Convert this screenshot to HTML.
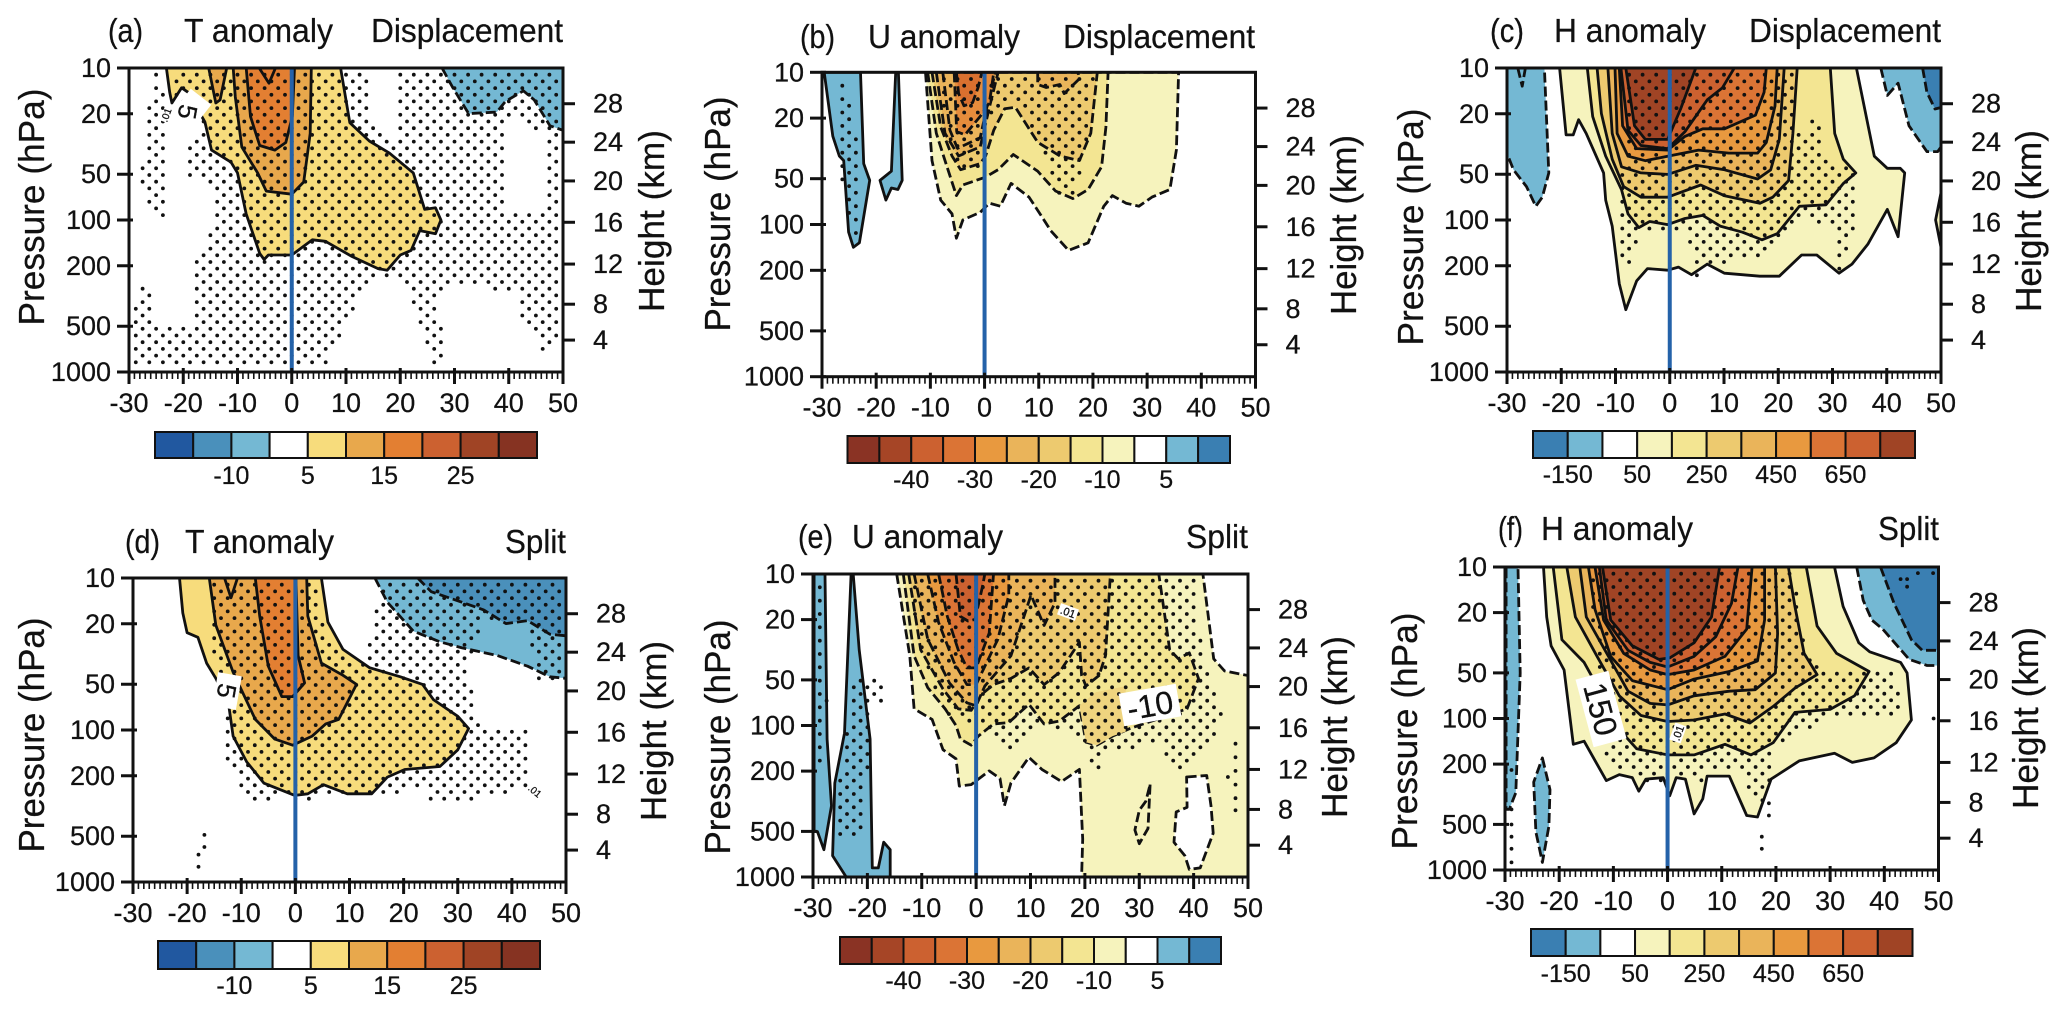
<!DOCTYPE html>
<html lang="en">
<head>
<meta charset="utf-8">
<title>Temperature, wind and height anomaly composites</title>
<style>
html,body{margin:0;padding:0;background:#fff;}
svg{display:block;}
text{font-family:"Liberation Sans",sans-serif;fill:#111;stroke:#111;stroke-width:0.25;}
.title{font-size:33px;}
.axt{font-size:36px;}
</style>
</head>
<body>
<svg id="fig" xmlns="http://www.w3.org/2000/svg" width="2067" height="1012" viewBox="0 0 2067 1012">
<defs id="defs"></defs>
<g id="plots"></g>
<g>
<text class="title" x="108" y="42" textLength="35" lengthAdjust="spacingAndGlyphs">(a)</text>
<text class="title" x="184" y="42" textLength="149" lengthAdjust="spacingAndGlyphs">T anomaly</text>
<text class="title" x="371" y="42" textLength="192" lengthAdjust="spacingAndGlyphs">Displacement</text>
<text class="title" x="800" y="48" textLength="35" lengthAdjust="spacingAndGlyphs">(b)</text>
<text class="title" x="868" y="48" textLength="152" lengthAdjust="spacingAndGlyphs">U anomaly</text>
<text class="title" x="1063" y="48" textLength="192" lengthAdjust="spacingAndGlyphs">Displacement</text>
<text class="title" x="1490" y="42" textLength="34" lengthAdjust="spacingAndGlyphs">(c)</text>
<text class="title" x="1554" y="42" textLength="152" lengthAdjust="spacingAndGlyphs">H anomaly</text>
<text class="title" x="1749" y="42" textLength="192" lengthAdjust="spacingAndGlyphs">Displacement</text>
<text class="title" x="125" y="553" textLength="35" lengthAdjust="spacingAndGlyphs">(d)</text>
<text class="title" x="185" y="553" textLength="149" lengthAdjust="spacingAndGlyphs">T anomaly</text>
<text class="title" x="505" y="553" textLength="61" lengthAdjust="spacingAndGlyphs">Split</text>
<text class="title" x="798" y="548" textLength="35" lengthAdjust="spacingAndGlyphs">(e)</text>
<text class="title" x="852" y="548" textLength="151" lengthAdjust="spacingAndGlyphs">U anomaly</text>
<text class="title" x="1186" y="548" textLength="62" lengthAdjust="spacingAndGlyphs">Split</text>
<text class="title" x="1498" y="540" textLength="25" lengthAdjust="spacingAndGlyphs">(f)</text>
<text class="title" x="1541" y="540" textLength="152" lengthAdjust="spacingAndGlyphs">H anomaly</text>
<text class="title" x="1878" y="540" textLength="61" lengthAdjust="spacingAndGlyphs">Split</text>
</g>
<g>
<text class="axt" transform="translate(44,207) rotate(-90)" text-anchor="middle" textLength="237" lengthAdjust="spacingAndGlyphs">Pressure (hPa)</text>
<text class="axt" transform="translate(664,221) rotate(-90)" text-anchor="middle" textLength="182" lengthAdjust="spacingAndGlyphs">Height (km)</text>
<text class="axt" transform="translate(730,214) rotate(-90)" text-anchor="middle" textLength="235" lengthAdjust="spacingAndGlyphs">Pressure (hPa)</text>
<text class="axt" transform="translate(1356,225) rotate(-90)" text-anchor="middle" textLength="180" lengthAdjust="spacingAndGlyphs">Height (km)</text>
<text class="axt" transform="translate(1423,227) rotate(-90)" text-anchor="middle" textLength="237" lengthAdjust="spacingAndGlyphs">Pressure (hPa)</text>
<text class="axt" transform="translate(2041,221) rotate(-90)" text-anchor="middle" textLength="182" lengthAdjust="spacingAndGlyphs">Height (km)</text>
<text class="axt" transform="translate(44,735) rotate(-90)" text-anchor="middle" textLength="235" lengthAdjust="spacingAndGlyphs">Pressure (hPa)</text>
<text class="axt" transform="translate(666,731) rotate(-90)" text-anchor="middle" textLength="180" lengthAdjust="spacingAndGlyphs">Height (km)</text>
<text class="axt" transform="translate(730,737) rotate(-90)" text-anchor="middle" textLength="235" lengthAdjust="spacingAndGlyphs">Pressure (hPa)</text>
<text class="axt" transform="translate(1347,727) rotate(-90)" text-anchor="middle" textLength="182" lengthAdjust="spacingAndGlyphs">Height (km)</text>
<text class="axt" transform="translate(1417,731) rotate(-90)" text-anchor="middle" textLength="237" lengthAdjust="spacingAndGlyphs">Pressure (hPa)</text>
<text class="axt" transform="translate(2038,718) rotate(-90)" text-anchor="middle" textLength="182" lengthAdjust="spacingAndGlyphs">Height (km)</text>
</g>
</svg>
<script>
// Shared axis values
const xTicks = [-30,-20,-10,0,10,20,30,40,50];
const pressureTicks = [10,20,50,100,200,500,1000];
const heightTicks = [28,24,20,16,12,8,4];
const heightLogP = [1.235,1.488,1.743,2.015,2.29,2.554,2.79];

// Colour scales (one entry per colourbar box)
const tempColors = ['#2158a0','#4a90bb','#74b8d3','#ffffff','#f7dc7c','#e8a84c','#e37f32','#cc6130','#a04425','#863322'];
const windColors = ['#8a3324','#a64526','#cc6130','#db7435','#e8993f','#eab45a','#edca6f','#f3e592','#f6f3bd','#ffffff','#74b8d3','#3a7fb2'];
const heightColors = ['#3a7fb2','#74b8d3','#ffffff','#f6f3bd','#f3e592','#edca6f','#eab45a','#e8993f','#db7435','#cc6130','#a04425'];
const tempBarLabels = [[2,'-10'],[4,'5'],[6,'15'],[8,'25']];
const windBarLabels = [[2,'-40'],[4,'-30'],[6,'-20'],[8,'-10'],[10,'5']];
const heightBarLabels = [[1,'-150'],[3,'50'],[5,'250'],[7,'450'],[9,'650']];

// Contour outlines: each point is [lag in days, log10 of pressure in hPa]
// Panel a
const aPlus5 = [[-23.1,1],[-22.5,1.16],[-22.1,1.23],[-20.3,1.13],[-19.1,1.16],[-16,1.355],[-14.8,1.54],[-11.2,1.62],[-10,1.69],[-8.4,1.96],[-5.9,2.22],[-5.1,2.26],[-4.3,2.23],[0,2.23],[3.8,2.13],[6.2,2.14],[11.1,2.24],[15.9,2.32],[17.6,2.33],[20,2.23],[22,2.2],[23.6,2.07],[26.5,2.09],[27.5,2],[26.5,1.92],[24.5,1.93],[22.4,1.69],[18,1.56],[14.3,1.48],[10.7,1.36],[9,1]];
const aPlus10 = [[-10.8,1],[-10.4,1.19],[-9.2,1.52],[-6.3,1.69],[-4.7,1.81],[0,1.83],[2.2,1.75],[3.4,1.43],[3.6,1]];
const aPlus10Small = [[-15.3,1],[-14,1.23],[-13.2,1.21],[-12,1]];
const aPlus15 = [[-8.4,1],[-7.6,1.32],[-5.9,1.51],[-3.1,1.54],[-1.1,1.49],[0.1,1.32],[0.5,1]];
const aPlus20 = [[-6,1],[-4.2,1.1],[-3,1]];
const aMinus5 = [[27.7,1],[29.7,1.13],[32.6,1.3],[37.8,1.29],[39.4,1.22],[42.7,1.15],[44.7,1.21],[47.6,1.38],[50,1.41],[50,1]];
const aStippleLeft = [[-25.8,1.02],[-24.6,1.02],[-22.5,1.3],[-22.5,2.01],[-25.8,2.01],[-28.2,1.74],[-26.6,1.43]];
const aStippleMain = [[-21.7,1.02],[13.9,1.02],[13.9,1.34],[18.8,1.52],[18.8,1.02],[50,1.02],[50,2.75],[46.3,2.93],[44.7,2.77],[41.9,2.66],[41.9,2.46],[29.7,2.44],[27.3,2.53],[28.1,2.97],[26.1,2.97],[24.1,2.75],[21.6,2.46],[16.8,2.37],[11.9,2.53],[9.5,2.75],[6.2,2.97],[-29.4,2.97],[-29.4,2.69],[-18.5,2.69],[-18.5,2.53],[-18.1,2.29],[-14.8,2.04],[-14.8,1.78],[-19.7,1.69],[-19.7,1.54],[-16.9,1.38],[-21.7,1.21]];
const aStippleLow = [[-28.2,2.42],[-26.6,2.42],[-25,2.69],[-29.4,2.69]];
const aStippleHole = [[39.3,1.31],[46.3,1.43],[46.3,1.96],[39.3,1.96]];

// Panel b
const bPlus5West = [[-29.6,1],[-28,1.42],[-26.8,1.55],[-26,1.58],[-25.1,2.05],[-24.2,2.15],[-23.1,2.12],[-21.2,1.71],[-22.3,1.6],[-22.9,1]];
const bPlus5Mid = [[-16.4,1],[-17.2,1.65],[-19.3,1.71],[-18.2,1.84],[-17.2,1.76],[-16,1.77],[-15.2,1.71],[-15.9,1]];
const bMinus5 = [[-10.9,1],[-9.7,1.58],[-8.1,1.84],[-6,1.93],[-5.2,2.09],[-4,1.97],[-0.8,1.92],[0.9,1.86],[2.9,1.88],[4.9,1.73],[8.2,1.82],[10.6,1.95],[12.2,2.04],[15.5,2.17],[19.1,2.12],[22,1.88],[23.6,1.81],[26.1,1.86],[28.5,1.88],[30.9,1.82],[34.2,1.77],[35.4,1.51],[35.8,1]];
const bMinus10 = [[-10.5,1],[-8.9,1.4],[-7.3,1.58],[-5.2,1.81],[-4,1.74],[0.1,1.69],[2.5,1.64],[5.3,1.54],[9.8,1.65],[13.1,1.78],[16.3,1.83],[19.1,1.77],[21.6,1.62],[22.4,1.36],[22.8,1]];
const bMinus15 = [[-9.7,1],[-8.1,1.36],[-6,1.55],[-4.4,1.64],[-0.8,1.6],[0.2,1.55],[1.7,1.38],[3.7,1.24],[5.7,1.23],[9.8,1.46],[13.9,1.55],[17.5,1.58],[19.6,1.4],[20.8,1]];
const bMinus20 = [[-8.9,1],[-7.3,1.4],[-4.8,1.55],[-0.8,1.49],[0.9,1.23],[2.5,1]];
const bMinus20East = [[9.8,1],[9.8,1.08],[11.4,1.1],[13.9,1.08],[14.7,1.14],[17.3,1.05],[17.3,1]];
const bMinus25 = [[-7.7,1],[-6.4,1.38],[-5,1.5],[-0.8,1.43],[0.6,1.2],[2,1]];
const bMinus30 = [[-5.6,1],[-5.15,1.39],[-3.6,1.41],[-0.8,1.29],[0.9,1.2],[1.7,1]];
const bMinus35 = [[-5.2,1],[-4.8,1.14],[-3.8,1.22],[-2.2,1.2],[-1.2,1.1],[-0.5,1]];
const bStippleMain = [[-8.5,1.02],[-5.6,1.64],[0.1,1.66],[0.2,1.4],[3.3,1.2],[6.2,1.18],[9.4,1.4],[11.4,1.55],[13.1,1.81],[17.1,1.81],[18.7,1.53],[20.2,1.02]];
const bStippleWest = [[-27.2,1.05],[-25.5,1.05],[-23,1.6],[-23.1,2.06],[-24.7,2.06],[-26.8,1.6]];

// Panel c
const cMinus50West = [[-30,1],[-23.1,1],[-22.3,1.69],[-23.5,1.85],[-24.7,1.91],[-26.4,1.78],[-28.8,1.67],[-29.8,1.58],[-30,1.58]];
const cMinus50Nub = [[-28,1],[-27.2,1.12],[-26.6,1]];
const cMinus50East = [[38.9,1],[40.1,1.18],[42.1,1.1],[44.1,1.38],[47.4,1.55],[49.4,1.55],[50,1.52],[50,1]];
const cMinus150East = [[46.6,1],[47.4,1.16],[48.9,1.27],[50,1.26],[50,1]];
const cPlus50Sliver = [[50,1.82],[49,2],[50,2.18]];
const cPlus50 = [[-20.3,1],[-19.1,1.44],[-17.8,1.44],[-16.8,1.34],[-15.4,1.43],[-12.2,1.69],[-11.8,1.87],[-10.6,2.04],[-9.3,2.42],[-8.1,2.59],[-6.1,2.4],[-4.1,2.32],[-0.4,2.33],[1.6,2.31],[4,2.36],[6.9,2.29],[10.1,2.35],[16.6,2.37],[20.2,2.37],[24.3,2.23],[27.1,2.23],[31.2,2.35],[33.6,2.29],[36.5,2.16],[40.1,1.93],[42.1,2.11],[43.3,1.69],[42.5,1.66],[40.1,1.66],[37.7,1.58],[34.4,1]];
const cPlus100 = [[-15.2,1],[-14.2,1.32],[-11.8,1.58],[-8.9,1.8],[-7.7,1.96],[-5.7,2.05],[-3.7,2.01],[-0.4,2.03],[2.8,1.99],[6.1,1.97],[9.3,2.04],[13.4,2.08],[17,2.13],[19.8,2.09],[23.9,1.91],[28.8,1.9],[32,1.76],[34.3,1.69],[32,1.6],[30.4,1.43],[29.6,1]];
const cPlus200 = [[-13.4,1],[-12.6,1.3],[-10.6,1.6],[-8.5,1.78],[-5.3,1.85],[-0.4,1.85],[5.7,1.77],[10.1,1.84],[16.6,1.89],[19,1.85],[21.9,1.74],[22.7,1.43],[23.5,1]];
const cPlus300 = [[-11.4,1],[-10.6,1.43],[-8.9,1.65],[-5.3,1.69],[-0.4,1.7],[4.8,1.64],[10.1,1.67],[16.2,1.73],[18.6,1.67],[20.2,1.47],[21.1,1]];
const cPlus400 = [[-10.1,1],[-9.7,1.43],[-7.7,1.58],[-4.5,1.61],[-0.4,1.58],[5.3,1.54],[10.9,1.56],[16.2,1.56],[17.8,1.49],[19.4,1.25],[19.8,1]];
const cPlus500 = [[-9.3,1],[-8.7,1.38],[-6.1,1.53],[-0.4,1.54],[2.8,1.45],[6.1,1.4],[10.1,1.4],[15.8,1.31],[17.4,1.16],[17.8,1]];
const cPlus600 = [[-9,1],[-7.7,1.41],[-5.3,1.51],[-0.4,1.53],[2.8,1.42],[6.9,1.21],[9.7,1.13],[11.9,1]];
const cPlus700 = [[-8.1,1],[-6.5,1.38],[-4.5,1.47],[-0.4,1.47],[2,1.27],[4.8,1]];
const cStipple = [[-7.7,1.02],[-8.1,1.54],[-9.7,1.85],[-9.7,2.26],[-6.9,2.31],[-5.3,2.07],[2.8,2.07],[4,2.26],[5.3,2.4],[6.5,2.29],[17.4,2.26],[19.8,2.12],[25.1,2],[31.2,2.04],[30.4,2.22],[31.6,2.38],[34.4,2.04],[34.4,1.69],[28.8,1.6],[28.3,1.38],[26.7,1.32],[24.3,1.43],[22.7,1.32],[22.7,1.02]];

// Panel d
const dPlus5 = [[-21.4,1],[-20.8,1.23],[-20,1.36],[-18,1.39],[-16.4,1.56],[-14.7,1.66],[-12.3,1.84],[-11.5,2.04],[-9,2.21],[-5.8,2.35],[-0.1,2.43],[2.3,2.42],[5.2,2.36],[9.6,2.42],[14.1,2.42],[17,2.31],[20.2,2.26],[26.7,2.24],[30,2.13],[32,1.99],[30,1.91],[25.5,1.8],[23.5,1.7],[19.4,1.65],[13.7,1.59],[8.8,1.47],[6,1.29],[4.8,1]];
const dPlus10 = [[-15.9,1],[-14.7,1.31],[-11.5,1.62],[-7.4,1.93],[-3.8,2.06],[-0.5,2.1],[3.1,2.04],[5.6,1.96],[8,1.93],[11.3,1.7],[8.8,1.64],[4.8,1.56],[2.3,1.25],[2.1,1]];
const dPlus15 = [[-7.4,1],[-6.6,1.25],[-5,1.58],[-2.5,1.78],[-0.5,1.78],[1.7,1.69],[0.5,1.51],[0.1,1]];
const dPlus10Small = [[-13.1,1],[-11.9,1.13],[-10.7,1]];
const dMinus5 = [[14.7,1],[17,1.16],[21.8,1.35],[26.7,1.42],[30.8,1.46],[37.3,1.51],[42.9,1.58],[47,1.65],[50,1.66],[50,1]];
const dMinus10 = [[22.6,1],[25.1,1.09],[30,1.15],[34.8,1.21],[38.9,1.3],[42.9,1.28],[47,1.37],[50,1.38],[50,1]];
const dStipple = [[-15.5,1.03],[4.4,1.03],[4.4,1.27],[8,1.47],[12.9,1.58],[13.7,1.42],[14.9,1.18],[15.3,1.03],[49.4,1.03],[49.4,1.69],[45,1.69],[43.4,1.47],[43.4,1.31],[34,1.25],[33.6,1.53],[31.6,1.51],[33.2,1.93],[34,1.98],[42.9,1.98],[43.4,2.39],[30.8,2.48],[25.5,2.48],[23.5,2.39],[15.3,2.43],[4,2.41],[0.3,2.52],[-0.9,2.43],[-8.2,2.48],[-13.1,2.21],[-13.5,1.93],[-11.5,1.84],[-14.7,1.62],[-15.9,1.4]];
const dExtraDots = [[-16.8,2.69],[-16.8,2.77],[-17.9,2.82],[-17.9,2.9]];

// Panel e
const ePlus5Strip = [[-29.8,1],[-27.8,1],[-27.4,2.09],[-26.6,2.53],[-28,2.82],[-29.2,2.7],[-29.8,2.7]];
const ePlus5West = [[-23,1],[-24.2,2.05],[-26,2.38],[-26.4,2.86],[-23.9,3],[-15.8,3],[-15.8,2.82],[-17,2.77],[-18,2.94],[-19.1,2.94],[-19.5,2.09],[-21.5,1.5],[-22.6,1]];
const eMinus5 = [[-14.6,1],[-12.2,1.54],[-11.4,1.89],[-8.1,1.96],[-6.1,2.16],[-3.7,2.22],[-3.1,2.4],[-0.9,2.39],[2.4,2.3],[4.4,2.35],[5.2,2.53],[6.4,2.38],[9.7,2.21],[12.1,2.29],[15.7,2.37],[19,2.29],[19.6,2.75],[19.4,3],[50,3],[50,1.67],[45.7,1.64],[43.7,1.56],[41.7,1]];
const eMinus5Hole = [[38.7,2.34],[42.4,2.33],[43.2,2.53],[43.6,2.71],[41.2,2.94],[39.2,2.95],[38.4,2.86],[36.4,2.77],[36.8,2.57],[38.8,2.54]];
const eMinus5Loop = [[32,2.39],[31.6,2.68],[30,2.78],[29.2,2.69],[30,2.56],[31.2,2.5]];
const eMinus10 = [[-13.4,1],[-11.4,1.54],[-8.9,1.75],[-5.7,1.89],[-3.7,2],[-2.9,2.09],[-0.9,2.13],[0.4,2.07],[3.2,1.99],[6,1.98],[9.7,1.86],[12.5,1.99],[15.3,1.97],[19,1.87],[20.2,2.11],[22.2,2.13],[25.1,2.07],[28.3,2.02],[38.8,1.89],[40.9,1.69],[39.2,1.52],[37.2,1.56],[35.6,1.5],[33.6,1]];
const eMinus15Low = [[19,1.87],[20.2,2.11],[22.2,2.13],[25.1,2.07],[27.5,2.04],[27.5,1.74],[22,1.78]];
const eMinus15 = [[-12.4,1],[-10.2,1.5],[-6.1,1.76],[-3.3,1.89],[-0.9,1.9],[0.8,1.8],[3.2,1.73],[6.4,1.69],[9.7,1.62],[12.5,1.73],[15.3,1.65],[19,1.45],[19.4,1.67],[20.2,1.74],[22.6,1.67],[23.8,1.54],[24.7,1]];
const eMinus20 = [[-11.4,1],[-8.9,1.43],[-4.9,1.72],[-1.7,1.85],[0,1.87],[1.6,1.74],[6.4,1.54],[10.1,1.14],[12.5,1.34],[14.5,1.19],[14.5,1]];
const eMinus25 = [[-8.9,1],[-6.9,1.32],[-4.1,1.58],[-1.7,1.73],[0,1.73],[4,1.43],[6,1.14],[6,1]];
const eMinus30 = [[-6.9,1],[-5.3,1.28],[-3.3,1.5],[-1.7,1.62],[0,1.62],[2.4,1.39],[3.2,1]];
const eMinus35 = [[-3.7,1],[-2.9,1.28],[-1.5,1.31],[-0.2,1.3],[1.2,1.08],[1.6,1]];
const eStippleMain = [[-12.6,1.02],[40.4,1.02],[41.3,1.43],[42.9,1.69],[45.5,1.96],[44.1,2.09],[37.2,2.31],[33.2,2.09],[27.1,2.18],[25.1,2.13],[22.2,2.33],[20.6,2.22],[19.4,2.07],[12.1,1.98],[6.4,2.17],[5.2,2.18],[3.2,2.09],[1.2,2],[-1.7,2.02],[-5.7,1.91],[-9.8,1.6],[-11.8,1.21]];
const eStippleStrip = [[-29.4,1.02],[-28.4,1.02],[-27.4,1.87],[-28.4,2.31],[-29.4,2.31]];
const eStippleWest = [[-23.1,1.69],[-20.3,1.69],[-19.6,2.22],[-21.5,2.75],[-25.1,2.75],[-25.5,2.42],[-23.9,2.05]];
const eStipplePatch = [[-20.3,1.68],[-17.4,1.68],[-17.4,1.88],[-20.3,1.88]];
const eExtraDots = [[47.7,2.12],[47.7,2.21],[47.7,2.3],[46.3,2.34],[47.7,2.39],[47.7,2.48],[47.7,2.56]];

// Panel f
const fMinus50Strip = [[-29.8,1],[-27.6,1],[-27.2,1.7],[-28,2.49],[-29.2,2.6],[-29.8,2.6]];
const fMinus50Lens = [[-23.1,2.26],[-21.7,2.47],[-21.9,2.71],[-23.1,2.95],[-24.3,2.75],[-24.7,2.42]];
const fMinus50East = [[34.9,1],[36.1,1.22],[37.7,1.35],[39.7,1.41],[44.6,1.61],[47.9,1.65],[50,1.65],[50,1]];
const fMinus150East = [[39.3,1],[41.8,1.24],[45,1.48],[47,1.55],[50,1.55],[50,1]];
const fPlus50 = [[-22.9,1],[-22.3,1.33],[-21.5,1.52],[-19.1,1.68],[-17.4,2.17],[-15.4,2.15],[-11.3,2.41],[-8.9,2.37],[-6.5,2.39],[-5.3,2.48],[-4,2.4],[-0.8,2.39],[0.4,2.51],[1.6,2.39],[3.3,2.4],[4.9,2.63],[6.5,2.53],[7.3,2.38],[11.4,2.38],[14.6,2.64],[16.6,2.65],[19.1,2.4],[24.3,2.28],[30.8,2.23],[34.1,2.29],[38.1,2.26],[42.2,2.16],[45,2.01],[44.2,1.7],[43,1.63],[37.3,1.56],[35.3,1.5],[32.4,1.26],[30.8,1]];
const fPlus100 = [[-21.1,1],[-19.5,1.48],[-15.4,1.63],[-10.9,1.92],[-7.7,2.12],[-5.7,2.2],[0,2.24],[4.9,2.24],[10.6,2.17],[15.4,2.24],[19.5,2.16],[23.5,1.96],[30,1.94],[34.5,1.85],[37.2,1.69],[31.2,1.57],[27.6,1.39],[25.6,1]];
const fPlus200 = [[-18.6,1],[-17,1.33],[-13,1.59],[-8.9,1.85],[-4.9,1.98],[0,2.02],[4.9,2.01],[10.6,1.97],[15.2,2.03],[19.5,1.92],[23.5,1.8],[27.6,1.71],[25.2,1.57],[23.5,1.26],[22.3,1]];
const fPlus300 = [[-16.2,1],[-15,1.33],[-10.9,1.59],[-7.3,1.82],[-3.2,1.9],[0,1.91],[4.9,1.85],[11.4,1.82],[16.2,1.81],[19.9,1.7],[20.3,1.44],[19.9,1]];
const fPlus400 = [[-14.6,1],[-13.4,1.28],[-10.5,1.59],[-6.5,1.75],[0,1.81],[4.9,1.74],[11.4,1.69],[16.6,1.62],[17.9,1.35],[17.9,1]];
const fPlus500 = [[-13.4,1],[-11.8,1.35],[-8.1,1.57],[-3.2,1.68],[0,1.71],[4.9,1.68],[10.6,1.59],[14.6,1.41],[15.6,1]];
const fPlus600 = [[-12.6,1],[-11.3,1.35],[-7.3,1.55],[-3.2,1.63],[0,1.66],[4.9,1.59],[8.9,1.46],[11.8,1.24],[13,1]];
const fPlus700 = [[-12,1],[-10.5,1.35],[-6.5,1.52],[-1.6,1.61],[0.4,1.6],[4.9,1.5],[8.1,1.33],[9.6,1]];
const fStipple = [[-14.6,1.03],[23.5,1.03],[24.7,1.37],[26.4,1.63],[30.8,1.68],[37.3,1.69],[42.2,1.68],[43.4,2.01],[30,2.01],[24.3,2.09],[19.9,2.18],[19.9,2.36],[18.3,2.53],[17.9,2.64],[16.2,2.53],[13,2.34],[7.3,2.36],[5.7,2.47],[3.3,2.36],[-4.9,2.45],[-7.3,2.36],[-10.5,2.34],[-12.2,2.14],[-10.5,1.92],[-13,1.65],[-14.2,1.26]];
const fExtraDots = [[44.2,1.13],[44.2,1.08],[46.2,1.04],[49,1.04],[43,1.08],[49.1,2],[17.4,2.78],[17.4,2.86],[18.7,2.64],[18.7,2.56],[-28.8,2.34],[-28.8,2.6],[-28.8,2.7],[-28.8,2.78],[-28.8,2.86],[-28.8,2.95]];

// Stipple grid spacing (days, log10 hPa)
const dotLagStep = 2.5;
const dotLogStep = 0.044;

const T = tempColors, W = windColors, H = heightColors;
const panels = [
  {id:'a',l:129,r:563,t:68,b:372,
   layers:[[aPlus5,T[4],0],[aPlus10,T[5],0],[aPlus10Small,T[5],0],[aPlus15,T[6],0],[aPlus20,T[6],0],[aMinus5,T[2],1]],
   stipple:[aStippleLeft,aStippleMain,aStippleLow],holes:[aStippleHole],extra:[],
   bar:{x0:155,x1:537,y0:432,y1:458,base:484,colors:tempColors,labels:tempBarLabels},
   notes:[{x:193,y:107,w:26,h:26,rot:38,tx:188,ty:112,trot:100,text:'5',size:26},{x:166,y:115,w:14,h:8,rot:-70,tx:166,ty:115,trot:-70,text:'.01',size:10}]},
  {id:'b',l:822,r:1255.5,t:72.3,b:376.7,
   layers:[[bPlus5West,W[10],0],[bPlus5Mid,W[10],0],[bMinus5,W[8],1],[bMinus10,W[7],1],[bMinus15,W[6],1],[bMinus20,W[5],1],[bMinus20East,W[5],1],[bMinus25,'#ecb55b',1],[bMinus30,'#e68c3c',1],[bMinus35,'#d9702f',1]],
   stipple:[bStippleMain,bStippleWest],holes:[],extra:[],
   bar:{x0:847.5,x1:1230,y0:436,y1:463,base:488,colors:windColors,labels:windBarLabels},notes:[]},
  {id:'c',l:1507,r:1941,t:68,b:372,
   layers:[[cMinus50West,H[1],1],[cMinus50Nub,H[1],1],[cMinus50East,H[1],1],[cMinus150East,H[0],1],[cPlus50Sliver,H[3],0],[cPlus50,H[3],0],[cPlus100,H[4],0],[cPlus200,H[5],0],[cPlus300,H[6],0],[cPlus400,H[7],0],[cPlus500,H[8],0],[cPlus600,H[9],0],[cPlus700,H[10],0]],
   stipple:[cStipple],holes:[],extra:[],
   bar:{x0:1533,x1:1915,y0:431,y1:458,base:483,colors:heightColors,labels:heightBarLabels},notes:[]},
  {id:'d',l:133,r:566,t:578,b:882,
   layers:[[dPlus5,T[4],0],[dPlus10,T[5],0],[dPlus10Small,T[5],0],[dPlus15,T[6],0],[dMinus5,T[2],1],[dMinus10,T[1],1]],
   stipple:[dStipple],holes:[],extra:dExtraDots,
   bar:{x0:158,x1:540,y0:941,y1:969,base:994,colors:tempColors,labels:tempBarLabels},
   notes:[{x:227,y:691,w:34,h:24,rot:100,tx:227,ty:691,trot:100,text:'5',size:26},{x:535,y:791,w:15,h:8,rot:40,tx:535,ty:791,trot:40,text:'.01',size:10}]},
  {id:'e',l:813,r:1248,t:574,b:877,
   layers:[[ePlus5Strip,W[10],0],[ePlus5West,W[10],0],[eMinus5,W[8],1],[eMinus5Hole,'#ffffff',1],[eMinus5Loop,W[8],1],[eMinus10,W[7],1],[eMinus15Low,'#efd47f',2],[eMinus15,W[6],1],[eMinus20,W[5],1],[eMinus25,W[4],1],[eMinus30,W[3],1],[eMinus35,W[2],1]],
   stipple:[eStippleMain,eStippleStrip,eStippleWest,eStipplePatch],holes:[],extra:eExtraDots,
   bar:{x0:840,x1:1221,y0:937,y1:964,base:989,colors:windColors,labels:windBarLabels},
   notes:[{x:1150,y:705,w:58,h:33,rot:-10,tx:1150,ty:705,trot:-10,text:'-10',size:32},{x:1068,y:612,w:19,h:12,rot:20,tx:1068,ty:612,trot:20,text:'.01',size:11}]},
  {id:'f',l:1505,r:1938.5,t:567,b:870,
   layers:[[fMinus50Strip,H[1],1],[fMinus50Lens,H[1],1],[fMinus50East,H[1],1],[fMinus150East,H[0],1],[fPlus50,H[3],0],[fPlus100,H[4],0],[fPlus200,H[5],0],[fPlus300,H[6],0],[fPlus400,H[7],0],[fPlus500,H[8],0],[fPlus600,H[9],0],[fPlus700,H[10],0]],
   stipple:[fStipple],holes:[],extra:fExtraDots,
   bar:{x0:1531,x1:1912.5,y0:929,y1:956,base:982,colors:heightColors,labels:heightBarLabels},
   notes:[{x:1601,y:709,w:70,h:34,rot:75,tx:1601,ty:709,trot:75,text:'150',size:32},{x:1678,y:733,w:18,h:12,rot:-70,tx:1678,ty:733,trot:-70,text:'.01',size:11}]}
];

const NS = 'http://www.w3.org/2000/svg';
function mk(tag, attrs, parent){
  const el = document.createElementNS(NS, tag);
  for (const k in attrs) el.setAttribute(k, attrs[k]);
  parent.appendChild(el);
  return el;
}
function inside(pt, poly){
  let c = false;
  for (let i = 0, j = poly.length - 1; i < poly.length; j = i++){
    const a = poly[i], b = poly[j];
    if ((a[1] > pt[1]) !== (b[1] > pt[1]) && pt[0] < (b[0]-a[0])*(pt[1]-a[1])/(b[1]-a[1]) + a[0]) c = !c;
  }
  return c;
}
const defs = document.getElementById('defs');
const root = document.getElementById('plots');

panels.forEach(function(p){
  const sx = function(lag){ return p.l + (lag + 30) / 80 * (p.r - p.l); };
  const sy = function(lp){ return p.t + (lp - 1) / 2 * (p.b - p.t); };
  const g = mk('g', {}, root);
  
  

  const clip = mk('clipPath', {id:'clip-' + p.id}, defs);
  mk('rect', {x:p.l, y:p.t, width:p.r - p.l, height:p.b - p.t}, clip);

  const plot = mk('g', {'clip-path':'url(#clip-' + p.id + ')'}, g);
  
  

  p.layers.forEach(function(layer, i){
    const d = layer[0].map(function(q){ return sx(q[0]).toFixed(1) + ',' + sy(q[1]).toFixed(1); }).join(' ');
    const poly = mk('polygon', {points:d, fill:layer[1], 'stroke-width':2.8, 'stroke-linejoin':'round'}, plot);
    poly.setAttribute('stroke', layer[2] === 2 ? 'none' : '#111');
    if (layer[2] === 1) poly.setAttribute('stroke-dasharray', '10 4');
    
    
  });

  for (let row = 0; row * dotLogStep + 1.044 < 3; row++){
    const lp = 1.044 + row * dotLogStep;
    const off = row % 2 ? dotLagStep / 2 : 0;
    for (let lag = -30 + off; lag <= 50; lag += dotLagStep){
      const pt = [lag, lp];
      const on = p.stipple.some(function(s){ return inside(pt, s); }) && !p.holes.some(function(s){ return inside(pt, s); });
      if (!on) continue;
      const dot = mk('circle', {cx:sx(lag).toFixed(1), cy:sy(lp).toFixed(1), r:1.9, fill:'#111'}, plot);
      
      
    }
  }
  p.extra.forEach(function(q){
    const dot = mk('circle', {cx:sx(q[0]).toFixed(1), cy:sy(q[1]).toFixed(1), r:1.9, fill:'#111'}, plot);
    
    
  });

  const zero = mk('line', {x1:sx(0), x2:sx(0), y1:p.t, y2:p.b, stroke:'#2462a9', 'stroke-width':4}, g);
  
  

  p.notes.forEach(function(n){
    const box = mk('rect', {x:-n.w/2, y:-n.h/2, width:n.w, height:n.h, fill:'#fff', transform:'translate(' + n.x + ',' + n.y + ') rotate(' + n.rot + ')'}, g);
    
    
    const t = mk('text', {x:0, y:n.size*0.36, 'text-anchor':'middle', 'font-size':n.size, transform:'translate(' + n.tx + ',' + n.ty + ') rotate(' + n.trot + ')'}, g);
    t.textContent = n.text;
    
    
  });

  const frame = mk('rect', {x:p.l, y:p.t, width:p.r - p.l, height:p.b - p.t, fill:'none', stroke:'#111', 'stroke-width':3}, g);
  
  

  // Minor lag ticks
  for (let lag = -30; lag <= 50; lag++){
    if (lag % 10 === 0) continue;
    const mt = mk('line', {x1:sx(lag), x2:sx(lag), y1:p.b, y2:p.b + 7, stroke:'#111', 'stroke-width':1.6}, g);
    
    
  }
  xTicks.forEach(function(v){
    const tk = mk('line', {x1:sx(v), x2:sx(v), y1:p.b - 4, y2:p.b + 12, stroke:'#111', 'stroke-width':3}, g);
    
    
    const t = mk('text', {x:sx(v), y:p.b + 40, 'text-anchor':'middle', 'font-size':27}, g);
    t.textContent = String(v);
    
    
  });
  pressureTicks.forEach(function(v){
    const y = sy(Math.log10(v));
    const tk = mk('line', {x1:p.l - 12, x2:p.l + 4, y1:y, y2:y, stroke:'#111', 'stroke-width':3}, g);
    
    
    const t = mk('text', {x:p.l - 18, y:y + 9, 'text-anchor':'end', 'font-size':27}, g);
    t.textContent = String(v);
    
    
  });
  heightTicks.forEach(function(v, i){
    const y = sy(heightLogP[i]);
    const tk = mk('line', {x1:p.r, x2:p.r + 12, y1:y, y2:y, stroke:'#111', 'stroke-width':3}, g);
    
    
    const t = mk('text', {x:p.r + 30, y:y + 9, 'font-size':27}, g);
    t.textContent = String(v);
    
    
  });

  // Colourbar
  const b = p.bar;
  const cb = mk('g', {}, g);
  
  
  const w = (b.x1 - b.x0) / b.colors.length;
  b.colors.forEach(function(c, i){
    const box = mk('rect', {x:b.x0 + i * w, y:b.y0, width:w, height:b.y1 - b.y0, fill:c, stroke:'#111', 'stroke-width':2}, cb);
    
    
  });
  b.labels.forEach(function(l){
    const t = mk('text', {x:b.x0 + l[0] * w, y:b.base, 'text-anchor':'middle', 'font-size':25}, cb);
    t.textContent = l[1];
    
    
  });
});
</script>
</body>
</html>
